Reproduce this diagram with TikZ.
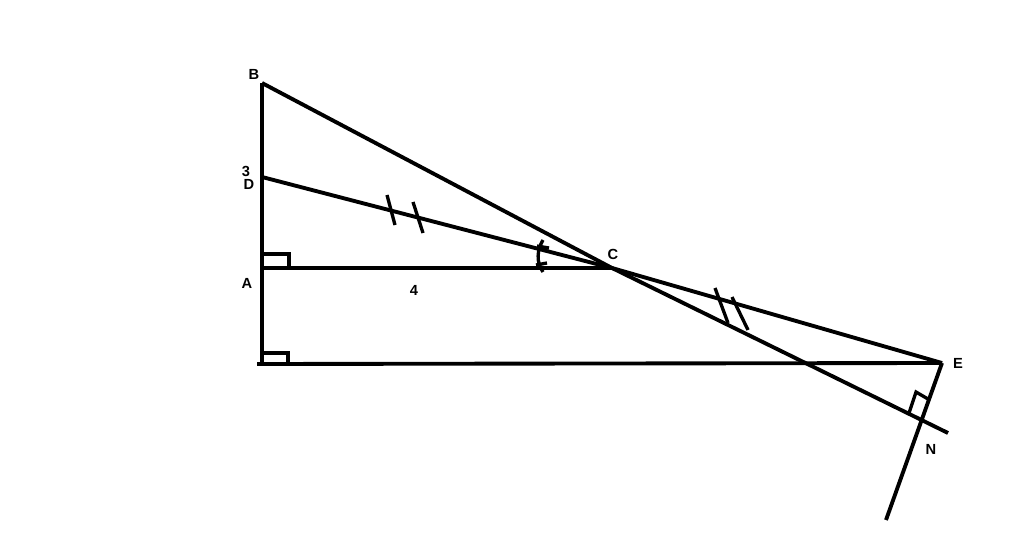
\documentclass[tikz,border=0pt]{standalone}
\usepackage{fontspec}
\setmainfont{Liberation Sans}
\begin{document}
\begin{tikzpicture}[x=0.75pt,y=-0.75pt,
  seg/.style={line width=2.9pt},
  mk/.style={line width=2.5pt},
  lbl/.style={font=\bfseries\fontsize{11}{13}\selectfont, inner sep=0pt}]
\useasboundingbox (0,0) rectangle (1024,545);
% points
\coordinate (B) at (262,83);
\coordinate (D) at (262,177);
\coordinate (A) at (262,268);
\coordinate (F) at (262,364);
\coordinate (F0) at (257,364);
\coordinate (C) at (612,268);
\coordinate (E) at (942,363);
\coordinate (Bend) at (948,433);
\coordinate (Lend) at (886,520);
\coordinate (N) at (922,420);
% main lines
\draw[seg] (B) -- (F);
\draw[seg] (F0) -- (E);
\draw[seg] (A) -- (C);
\draw[seg] (B) -- (C) -- (Bend);
\draw[seg] (D) -- (C) -- (E);
\draw[seg] (E) -- (Lend);
% right angle marks
\draw[mk] (262,254) -- (289,254) -- (289,268);
\draw[mk] (262,353) -- (288,353) -- (288,364);
\draw[mk] (909,413) -- (916,392) -- (928,399);
% equal tick marks
\draw[mk] (387,195) -- (395,225);
\draw[mk] (413,202) -- (423,233);
\draw[mk] (715,288) -- (728,323);
\draw[mk] (732,297) -- (748,330);
% angle marks
\draw[mk] (543,240) .. controls (537,250) and (536,262) .. (543,272);
\draw[mk] (537,246) -- (549,248);
\draw[mk] (536,265) -- (547,263);
% labels
\node[lbl] (lB) at (254,74) {B};
\node[lbl] (l3) at (246,171) {3};
\node[lbl] (lD) at (249,184) {D};
\node[lbl] (lA) at (247,283) {A};
\node[lbl] (l4) at (414,290) {4};
\node[lbl] (lC) at (613,254) {C};
\node[lbl] (lE) at (958,363) {E};
\node[lbl] (lN) at (931,449) {N};
\end{tikzpicture}
\end{document}
